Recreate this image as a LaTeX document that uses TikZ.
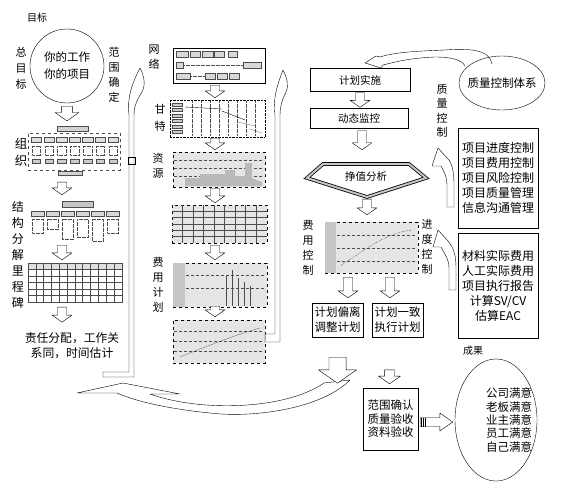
\documentclass[tikz,border=0pt]{standalone}
\usepackage{fontspec}
\setmainfont{Noto Sans CJK SC}
\usetikzlibrary{%
	calc,%
	shapes.geometric,%
	positioning,%
}
\tikzset{
	nodes={align=center, inner sep=1pt},%
	txt/.style={font=\fontsize{11.5}{15}\selectfont},%
	vlabel/.style={%
			font=\fontsize{11}{15}\selectfont,%
			inner sep=0pt},%
	box/.style={%
			draw,%
			rectangle,%
			font=\fontsize{11.5}{15}\selectfont},%
	thumb/.style={%
			draw,%
			dashed,%
			fill=gray!20,%
			inner sep=0pt},%
	detail/.style={line width=0.25pt, draw=gray!60!black},%
	hollow/.style={draw, fill=white, line join=round},%
}
% block arrow pointing down, x taken from the start point
\newcommand{\dnarrow}[3][1]{%
	\draw[hollow] let \p1=#2, \p2=#3 in
		(\x1-4.5pt*#1,\y1) -- (\x1-4.5pt*#1,\y2+7pt*#1) -- (\x1-10pt*#1,\y2+7pt*#1) -- (\x1,\y2)
		-- (\x1+10pt*#1,\y2+7pt*#1) -- (\x1+4.5pt*#1,\y2+7pt*#1) -- (\x1+4.5pt*#1,\y1) -- cycle;}
% block arrow pointing right
\newcommand{\rtarrow}[2]{%
	\draw[hollow] let \p1=#1, \p2=#2 in
		(\x1,\y1+4.5pt) -- (\x2-13pt,\y1+4.5pt) -- (\x2-13pt,\y1+9pt) -- (\x2,\y1)
		-- (\x2-13pt,\y1-9pt) -- (\x2-13pt,\y1-4.5pt) -- (\x1,\y1-4.5pt) -- cycle;}

\begin{document}
\begin{tikzpicture}[x=1pt, y=-1pt]
	\useasboundingbox (0,0) rectangle (569,487);

	% goal and left column
	\node[font=\fontsize{10}{12}\selectfont] (goallbl) at (37,18) {目标};
	\node[circle, draw, minimum size=74pt, font=\fontsize{11.5}{17}\selectfont] (goal) at (67,66) {你的工作\\你的项目};
	\node[vlabel, font=\fontsize{11}{16}\selectfont] (totlbl) at (21,68) {总\\目\\标};
	\node[vlabel] (scopelbl) at (114,75) {范\\围\\确\\定};

	\node[draw, dashed, detail, minimum width=92pt, minimum height=37pt, inner sep=0pt] (org) at (74,151.5) {};
	\node[draw, detail, fill=gray!35, minimum width=31pt, minimum height=5pt, inner sep=0pt] (orgtop) at (72.5,128.5) {};
	\foreach \i in {0,...,6} {
		\draw[detail, fill=gray!25] (31+\i*12.8,137) rectangle +(10.5,5);
		\draw[detail, densely dotted] (32+\i*12.8,146) rectangle +(8.5,9);
		\draw[detail, fill=gray!40] (32+\i*12.8,159) rectangle +(8.5,4);
	}
	\node[draw, detail, fill=gray!35, minimum width=24pt, minimum height=4pt, inner sep=0pt] (orgbot) at (70,173) {};
	\node[vlabel, font=\fontsize{12.5}{17}\selectfont] (orglbl) at (21,152) {组\\织};

	\node[minimum width=92pt, minimum height=40pt, inner sep=0pt] (wbs) at (75,220) {};
	\draw[detail, fill=gray!45] (62,201) rectangle (93,207);
	\foreach \i/\h in {0/14,1/10,2/20,3/18,4/22,5/14} {
		\draw[detail, fill=gray!30] (31+\i*15,211) rectangle +(13,5);
		\draw[detail, densely dotted] (32+\i*15,219) rectangle +(11,\h);
	}
	\node[vlabel, font=\fontsize{12}{16}\selectfont] (wbslbl) at (18,255) {结\\构\\分\\解\\里\\程\\碑};

	\node[draw, detail, minimum width=94pt, minimum height=39pt, inner sep=0pt] (tbl1) at (75,282.5) {};
	\draw[detail, fill=gray!25] (tbl1.north west) rectangle ($(tbl1.north east)+(0,6)$);
	\foreach \i in {1,...,11} \draw[detail] ($(tbl1.north west)+(\i*7.8,0)$) -- +(0,39);
	\foreach \j in {1,...,5} \draw[detail] ($(tbl1.north west)+(0,\j*6.5)$) -- +(94,0);

	\node[txt, font=\fontsize{11.8}{15}\selectfont] (resp) at (72,346) {责任分配，工作关\\系同，时间估计};

	\dnarrow[1.2]{($(goal.south)+(0,3)$)}{($(orgtop.north)+(0,-5)$)}
	\dnarrow{($(org.south)+(-12,12)$)}{($(wbs.north)+(0,-5)$)}
	\dnarrow{($(wbs.south)+(-13,5)$)}{($(tbl1.north)+(0,-3)$)}
	\dnarrow{($(tbl1.south)+(-13,5)$)}{($(tbl1.south)+(0,20)$)}

	% tall arrow, left
	\draw[hollow] (103,372) -- (129,372) -- (129,115)
		.. controls (127,100) and (131,85) .. (140,68)
		.. controls (144,76) and (146,84) .. (142,92)
		.. controls (138,98) and (134,105) .. (134,115)
		-- (134,377) -- (103,377) -- cycle;
	\draw (128,157) rectangle (135,164);

	% middle column
	\node[draw, minimum width=92pt, minimum height=35pt, inner sep=0pt] (net) at (219,65.5) {};
	\foreach \a/\b/\w in {176/51/12, 190/51/10, 202/51/11, 214/51/10, 228/51/9, 176/62/7, 243/62/18, 176/73/14, 205/73/10, 217/73/10, 229/73/10}
		\draw[detail, fill=gray!30] (\a,\b) rectangle +(\w,6);
	\draw[detail, densely dotted] (183,65) -- (243,65);
	\draw[detail, densely dotted] (190,76) -- (205,76);
	\node[vlabel] (netlbl) at (154,57) {网\\络};

	\node[draw, densely dotted, minimum width=95pt, minimum height=37pt, inner sep=0pt] (gantt) at (217.5,118.5) {};
	\foreach \i in {1,...,8} \draw[detail, densely dotted] (183+\i*9,101) -- +(0,35);
	\foreach \j in {0,...,5} \draw[detail, fill=gray!40] (172,103+\j*5.5) rectangle +(10,3);
	\draw (185,107) -- (222,109);
	\draw (222,111) -- (245,120);
	\draw[detail] (238,122) -- (255,126);
	\draw[detail] (250,129) -- (262,133);
	\node[vlabel, font=\fontsize{11}{17}\selectfont] (ganttlbl) at (160,118) {甘\\特};

	\node[thumb, minimum width=92pt, minimum height=35pt] (res) at (219,169.5) {};
	\foreach \j in {160,168,176} \draw[detail, densely dashed] (174,\j) -- (264,\j);
	\fill[gray!55] (185,186) -- (185,178) -- (200,178) -- (200,174) -- (225,174) -- (225,170)
		-- (235,170) -- (235,176) -- (245,176) -- (245,163) -- (252,163) -- (252,178) -- (262,182) -- (262,186) -- cycle;
	\node[vlabel] (reslbl) at (158,166) {资\\源};

	\node[thumb, minimum width=95pt, minimum height=38pt] (tbl2) at (219.5,224) {};
	\foreach \i in {1,...,8} \draw[detail] ($(tbl2.north west)+(\i*10.5,0)$) -- +(0,38);
	\foreach \j in {1,...,5} \draw[detail] ($(tbl2.north west)+(0,\j*6.3)$) -- +(95,0);

	\node[thumb, minimum width=94pt, minimum height=44pt] (cost) at (220,285) {};
	\fill[gray!45] (cost.north west) rectangle ($(cost.south west)+(12,0)$);
	\foreach \j in {275,288} \draw[detail, densely dashed] (186,\j) -- (266,\j);
	\foreach \a/\t in {226/275,232/270,238/278,244/282,250/286} \draw[detail] (\a,\t) -- (\a,306);
	\node[vlabel] (costlbl) at (158,285) {费\\用\\计\\划};

	\node[thumb, minimum width=92pt, minimum height=43pt] (scurve) at (219,341.5) {};
	\foreach \j in {331,341,351} \draw[detail, densely dashed] (174,\j) -- (264,\j);
	\draw[detail] (180,357) .. controls (210,345) and (235,335) .. (260,328);

	\dnarrow{($(net.south)+(-4,2)$)}{($(gantt.north)+(0,-2)$)}
	\dnarrow{($(gantt.south)+(-2.5,1)$)}{($(res.north)+(0,-2)$)}
	\dnarrow{($(res.south)+(-4,1)$)}{($(tbl2.north)+(0,-2)$)}
	\dnarrow{($(tbl2.south)+(-4.5,2)$)}{($(cost.north)+(0,-3)$)}
	\dnarrow{($(cost.south)+(-5,-1)$)}{($(scurve.north)+(0,-3)$)}

	% tall arrow, right
	\draw[hollow] (scurve.east) ++(0,-7.5) -- (275,334) -- (275,115)
		.. controls (273,100) and (276,88) .. (283,70)
		.. controls (287,78) and (289,85) .. (286,92)
		.. controls (283,98) and (280,105) .. (280,115)
		-- (280,342) -- (265,342) -- cycle;

	% right column
	\draw[hollow] (492,64) .. controls (490,50) and (470,48) .. (445,50)
		.. controls (420,51) and (395,52) .. (380,57)
		-- (376,56) -- (365,63) -- (381,68) -- (383,65)
		.. controls (395,62) and (410,58) .. (435,57)
		.. controls (452,57) and (462,60) .. (465,66);
	\node[ellipse, draw, minimum width=86pt, minimum height=54pt, inner sep=0pt] (qsys) at (502,83) {};
	\node[txt] (qsystxt) at (qsys) {质量控制体系};

	\node[box, minimum width=100pt, minimum height=23pt, font=\fontsize{10.5}{13}\selectfont] (plan) at (360,80) {计划实施};
	\node[box, minimum width=98pt, minimum height=20pt, font=\fontsize{10.5}{13}\selectfont] (monit) at (359,118.5) {动态监控};
	\draw[double=gray!45, double distance=2pt, thick] (323,164) -- (409,164) -- (426,178) -- (367,197) -- (307,178) -- cycle;
	\node[font=\fontsize{10.5}{13}\selectfont] (ev) at (366,177) {挣值分析};

	\node[thumb, minimum width=93pt, minimum height=51pt] (ctrl) at (371.5,247.5) {};
	\fill[gray!45] (ctrl.north west) rectangle ($(ctrl.south west)+(11,0)$);
	\foreach \j in {235,248,261} \draw[detail, densely dashed] (337,\j) -- (417,\j);
	\draw[densely dotted] (340,266) .. controls (365,250) and (385,233) .. (412,230);
	\node[vlabel, font=\fontsize{11}{15}\selectfont] (costctl) at (308,247.5) {费\\用\\控\\制};
	\node[vlabel, font=\fontsize{11}{15}\selectfont] (schedctl) at (427,247) {进\\度\\控\\制};

	\node[box, minimum width=51pt, minimum height=34pt] (dev) at (337.5,320) {计划偏离\\调整计划};
	\node[box, minimum width=51pt, minimum height=34pt] (cons) at (397.5,320) {计划一致\\执行计划};

	\dnarrow{($(plan.south)+(0,1)$)}{($(monit.north)+(0,-1)$)}
	\dnarrow{($(monit.south)+(3,2)$)}{($(monit.south)+(0,21)$)}
	\dnarrow{($(ev.south)+(1,16)$)}{($(ctrl.north)+(0,-7)$)}
	\dnarrow{($(ctrl.south)+(-23.5,4)$)}{($(dev.north)+(0,-5)$)}
	\dnarrow{($(ctrl.south)+(18.5,4)$)}{($(cons.north)+(0,-5)$)}

	\node[vlabel, font=\fontsize{11}{14.5}\selectfont] (qlbl) at (442,111) {质\\量\\控\\制};
	\node[box, minimum width=80pt, minimum height=100pt, font=\fontsize{12}{15}\selectfont] (ctrllist) at (498,178) {项目进度控制\\项目费用控制\\项目风险控制\\项目质量管理\\信息沟通管理};
	\node[box, minimum width=80pt, minimum height=105pt, font=\fontsize{12}{15}\selectfont] (actual) at (498,285.5) {材料实际费用\\人工实际费用\\项目执行报告\\计算SV/CV\\估算EAC};

	\draw[hollow] (447,207) -- (447,185) .. controls (447,176) and (443,170) .. (441,166)
		-- (432,166) -- (438,148) -- (449,160)
		.. controls (453,166) and (454,175) .. (454,185) -- (454,207) -- cycle;
	\draw[hollow] (449,290) -- (449,268) .. controls (449,258) and (443,252) .. (441,247)
		-- (433,247) -- (438,230) -- (448,241)
		.. controls (454,248) and (456,256) .. (456,268) -- (456,290) -- cycle;

	% results
	\node[font=\fontsize{10}{12}\selectfont] (reslt) at (473,351) {成果};
	\draw[hollow] (77,393) -- (123,383) -- (180,394) -- (150,394)
		.. controls (200,412) and (285,410) .. (324,383)
		-- (350,380)
		.. controls (320,410) and (250,418) .. (210,413)
		.. controls (160,408) and (130,399) .. (117,393) -- cycle;
	\dnarrow[1.9]{($(dev.south)+(0,20)$)}{($(dev.south)+(0,46)$)}

	\node[box, minimum width=55pt, minimum height=62pt, font=\fontsize{11.5}{13.5}\selectfont] (accept) at (390.5,419) {范围确认\\质量验收\\资料验收};
	\dnarrow[1.1]{($(accept.north)+(-1,-18)$)}{($(accept.north)+(-1,-4)$)}

	\node[ellipse, draw, minimum width=82pt, minimum height=122pt, inner sep=0pt] (sat) at (496,420) {};
	\node[font=\fontsize{11.5}{13.4}\selectfont] (sattxt) at (509,420) {公司满意\\老板满意\\业主满意\\员工满意\\自己满意};

	\rtarrow{($(accept.east)+(2,3)$)}{($(sat.west)+(-2,3)$)}
	\foreach \i in {421,423,425} \draw[line width=0.9pt] (\i,418) -- (\i,427);
\end{tikzpicture}
\end{document}
